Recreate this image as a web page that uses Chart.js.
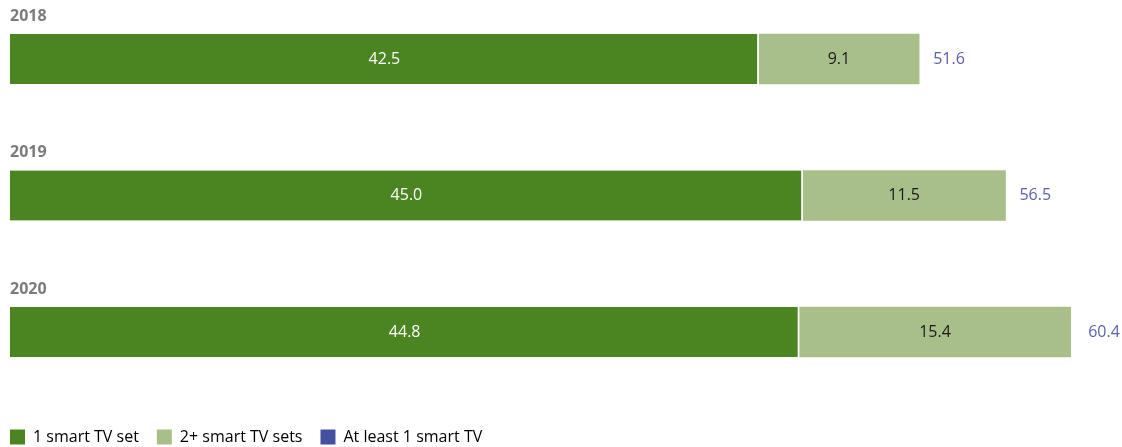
<!DOCTYPE html>
<html>
<head>
<meta charset="utf-8">
<script src="https://cdn.jsdelivr.net/npm/chart.js@4.4.0/dist/chart.umd.min.js"></script>
<style>
  html, body { margin: 0; padding: 0; background: #fff; }
  #wrap { width: 1122px; height: 447px; }
</style>
</head>
<body>
<div id="wrap"><canvas id="chart"></canvas></div>
<script>
// years and shares of households (%)
const years = ['2018', '2019', '2020'];
const oneSet = [42.5, 45.0, 44.8];
const twoPlusSets = [9.1, 11.5, 15.4];
const atLeastOne = [51.6, 56.5, 60.4];

const FONT = '"Open Sans", "Noto Sans", sans-serif';

// values inside the bars, totals to the right, year above each bar
const labelPlugin = {
    id: 'barLabels',
    afterDatasetsDraw(chart) {
        const ctx = chart.ctx;
        const xs = chart.scales.x;
        const ys = chart.scales.y;
        ctx.save();
        ctx.font = '16px ' + FONT;
        ctx.textBaseline = 'middle';
        ctx.textAlign = 'center';
        [0, 1].forEach(di => {
            const ds = chart.data.datasets[di];
            chart.getDatasetMeta(di).data.forEach((bar, i) => {
                ctx.fillStyle = di === 0 ? '#ffffff' : '#1a1a1a';
                ctx.fillText(ds.data[i].toFixed(1), (bar.x + bar.base) / 2, bar.y);
            });
        });
        ctx.textAlign = 'left';
        ctx.fillStyle = '#5b60ad';
        atLeastOne.forEach((v, i) => {
            ctx.fillText(v.toFixed(1), xs.getPixelForValue(v) + 14, ys.getPixelForValue(i));
        });
        ctx.font = 'bold 16px ' + FONT;
        ctx.fillStyle = '#7b7b7b';
        years.forEach((y, i) => {
            ctx.fillText(y, 10, ys.getPixelForValue(i) - 43);
        });
        ctx.restore();
    }
};

new Chart(document.getElementById('chart'), {
    type: 'bar',
    data: {
        labels: years,
        datasets: [
            {
                label: '1 smart TV set',
                data: oneSet,
                backgroundColor: '#4a8522',
                borderColor: '#ffffff',
                borderWidth: { right: 2 },
                borderSkipped: false,
                barThickness: 50,
                clip: false
            },
            {
                label: '2+ smart TV sets',
                data: twoPlusSets,
                backgroundColor: '#a8bf8a',
                barThickness: 50,
                clip: false
            },
            {
                label: 'At least 1 smart TV',
                data: [null, null, null],
                backgroundColor: '#4650a0',
                barThickness: 50
            }
        ]
    },
    options: {
        indexAxis: 'y',
        responsive: true,
        maintainAspectRatio: false,
        animation: false,
        // legend sits at the very bottom-left edge
        layout: { padding: { top: 59, right: 2, left: -8, bottom: -8 } },
        scales: {
            x: {
                stacked: true,
                min: 0,
                max: 63,
                ticks: { display: false },
                grid: { display: false },
                border: { display: false },
                afterFit: s => { s.height = 79; }
            },
            y: {
                stacked: true,
                offset: false,
                ticks: { display: false },
                grid: { display: false },
                border: { display: false },
                afterFit: s => { s.width = 18; }
            }
        },
        plugins: {
            tooltip: { enabled: false },
            legend: {
                position: 'bottom',
                align: 'start',
                labels: {
                    font: { family: FONT, size: 16 },
                    color: '#1a1a1a',
                    boxWidth: 15,
                    boxHeight: 15,
                    padding: 18,
                    generateLabels: chart => chart.data.datasets.map((ds, i) => ({
                        text: ds.label,
                        fillStyle: ds.backgroundColor,
                        strokeStyle: ds.backgroundColor,
                        lineWidth: 0,
                        datasetIndex: i
                    }))
                }
            }
        }
    },
    plugins: [labelPlugin]
});
</script>
</body>
</html>
